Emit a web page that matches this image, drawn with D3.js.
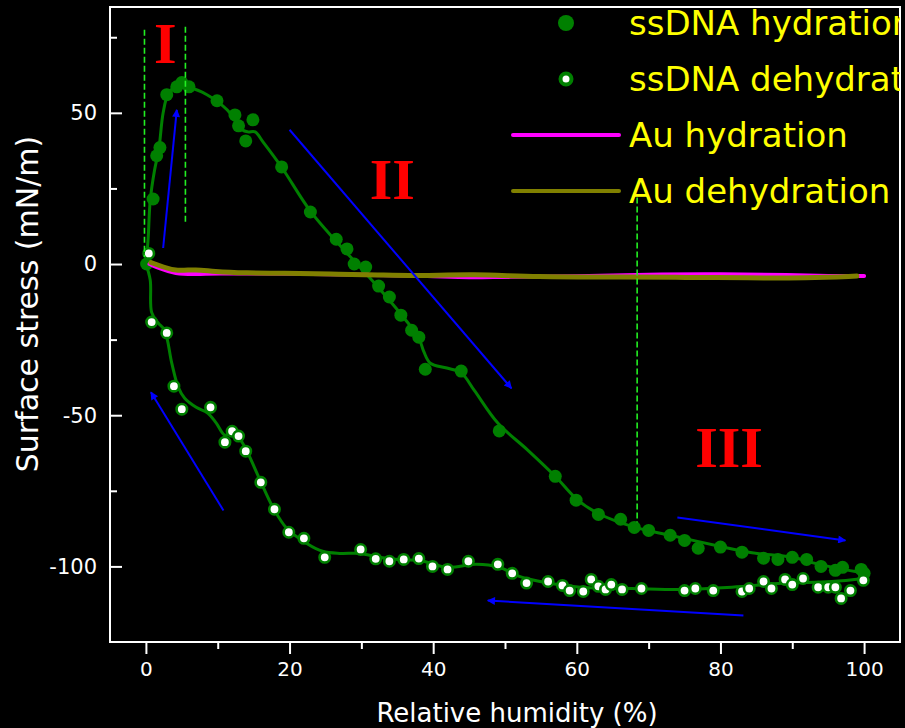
<!DOCTYPE html>
<html>
<head>
<meta charset="utf-8">
<script src="https://cdn.jsdelivr.net/npm/d3@7"></script>
<style>
  html, body { margin: 0; padding: 0; background: #000; }
  svg { display: block; }
  text { font-family: "Comic Sans MS", "DejaVu Sans", sans-serif; }
</style>
</head>
<body>
<svg id="chart" width="905" height="728"></svg>
<script>
// ssDNA hydration, measured points: [relative humidity %, surface stress mN/m]
const hydrationPoints = [
  [0.1,0],[1.0,21.5],[1.5,35.8],[1.95,38.5],[2.9,56],[4.3,58.6],[5.0,60],[6.0,58.6],
  [9.9,54],[12.4,49.3],[12.9,45.7],[14.9,47.7],[13.9,40.7],[18.9,32.1],[22.9,17.2],
  [26.5,8.2],[28,5],[29,0],[30.6,-1],[32.4,-7.3],[33.9,-10.9],[35.5,-16.9],[37,-21.9],
  [38,-24.2],[38.9,-34.8],[43.9,-35.4],[49.2,-55.2],[57,-70.2],[59.9,-78.1],[63,-82.8],
  [66.1,-84.4],[68,-87.1],[70,-88.1],[73,-89.7],[75,-91.4],[76.9,-94],[80,-93.6],
  [83,-95.3],[86,-97.3],[88,-97.7],[90,-97],[92,-97.7],[94,-100],[96,-101.3],
  [97,-100.3],[99.6,-101],[100,-102.3]
];

// ssDNA dehydration, measured points
const dehydrationPoints = [
  [0.4,3.5],[0.8,-19.2],[2.9,-22.8],[3.9,-40.4],[5.0,-48],[9.0,-47.4],[11.0,-58.9],
  [12.0,-55.3],[12.9,-56.9],[13.9,-61.9],[16.0,-72.2],[17.9,-81.1],[19.9,-88.7],
  [22.0,-90.7],[24.9,-97],[29.9,-94.4],[32.0,-97.5],[33.9,-98.3],[35.9,-97.7],
  [38.0,-97.4],[39.9,-100],[42.0,-101],[44.9,-98.3],[49.0,-99.3],[51.0,-102.3],
  [53.0,-105.5],[56.0,-105],[58.0,-106.3],[59.0,-108],[60.9,-108.3],[62.0,-104.3],
  [63.0,-106.6],[64.0,-107.6],[64.8,-106],[66.3,-107.6],[69.0,-107.3],[75.0,-108],
  [76.5,-107.3],[79.0,-108],[83.0,-108.3],[84.0,-107.3],[86.0,-105],[87.1,-107.3],
  [89.0,-104.3],[90.0,-106],[91.5,-104],[93.6,-106.9],[95.0,-106.9],[96.0,-106.9],
  [96.8,-110.6],[98.1,-108],[99.9,-104.6]
];

// Smoothed trend through the hydration points
const hydrationFit = [
  [0,0],[0.3,8],[0.6,21],[1.2,31],[1.8,38],[2.4,50],[3.1,56.3],[4.0,58.3],[6.1,58.3],
  [8.5,56],[11.3,51],[13.4,44.4],[14.2,43.7],[15.2,43.7],[16.3,40.4],[18.9,32],
  [22.9,17.5],[26.5,7.5],[30,-1.5],[33,-9.5],[36,-18],[38,-24.5],[38.7,-29],
  [39.6,-32.8],[41.9,-34.4],[43.9,-36],[45.7,-41.7],[49,-52.6],[53.2,-61.6],[57,-70.2],
  [60,-77.8],[63,-82.5],[68,-87],[73,-89.7],[80,-93.4],[84.4,-95.5],[90,-97],
  [94,-99.5],[100,-102.2]
];

// Smoothed trend through the dehydration points
const dehydrationFit = [
  [0,0],[0.6,-5.3],[0.8,-16],[1.7,-19.5],[2.6,-21.9],[3.6,-32.8],[4.5,-40.7],[5.4,-44.4],
  [7,-47.4],[8.6,-49.3],[9.8,-52.6],[11,-56.6],[12,-56],[12.9,-57.3],[14,-61.6],
  [15.9,-71.5],[17.7,-80.5],[19.6,-87.4],[22.4,-92.4],[24.6,-95],[27,-95.7],[29.8,-95.7],
  [32.5,-97],[35.5,-97.8],[38,-98],[42,-100.3],[46,-99.3],[49.2,-100.3],[52,-103.3],
  [56.2,-105.6],[60.8,-107],[67.7,-107.3],[74.7,-107.6],[81.6,-106.9],[88.6,-105.6],
  [95.5,-105],[100,-104]
];

// Bare gold reference traces
const auHydration = [
  [0.5,0],[2,-1.5],[4,-3.2],[7,-3.4],[10,-3],[15,-3.2],[20,-3.2],[30,-3.5],[40,-4],
  [45,-4.5],[50,-4.2],[60,-4.2],[70,-3.4],[80,-3.3],[90,-3.6],[95,-4],[100,-4]
];
const auDehydration = [
  [0.7,0.5],[2.4,-1],[4.3,-2.4],[7,-1.7],[9.3,-2.5],[14,-3],[19,-3],[25.6,-3.3],
  [32.5,-3.6],[38,-4],[45.5,-3.3],[54,-4.3],[67,-4.3],[75,-4.4],[84,-4.6],[92,-4.6],[99,-4]
];

// Axis ticks
const xMajorTicks = [0, 20, 40, 60, 80, 100];
const xMinorTicks = [10, 30, 50, 70, 90];
const yMajorTicks = [-100, -50, 0, 50];
const yMinorTicks = [-75, -25, 25, 75];

// Region boundaries (dashed) : [x, yTop, yBottom]
const regionBounds = [[-0.2, 77.5, 2.3], [5.5, 78.5, 13.9], [68.4, 22, -85.4]];
// Region labels : [text, x, y baseline]
const regionLabels = [["I", 2.7, 66.5], ["II", 34.3, 21.5], ["III", 81.2, -67]];
// Direction arrows : [x0, y0, x1, y1] (head at x1,y1)
const arrows = [
  [2.4, 5.3, 4.3, 51],
  [20.0, 44.4, 50.9, -41.1],
  [10.8, -81.5, 0.7, -42.4],
  [74.0, -83.8, 97.4, -91.4],
  [83.2, -116.2, 47.6, -111.3]
];

const legendNames = ["ssDNA hydration", "ssDNA dehydration", "Au hydration", "Au dehydration"];

const green = "#008000";
const svg = d3.select("#chart");
const W = 905, H = 728;
const plot = { left: 110, right: 900, top: 7, bottom: 642 };

const x = d3.scaleLinear().domain([-5, 105]).range([plot.left, plot.right]);
const y = d3.scaleLinear().domain([-125, 85]).range([plot.bottom, plot.top]);

svg.append("rect").attr("width", W).attr("height", H).attr("fill", "#000");

const defs = svg.append("defs");
defs.append("clipPath").attr("id", "plotClip")
  .append("rect")
  .attr("x", plot.left).attr("y", plot.top)
  .attr("width", plot.right - plot.left).attr("height", plot.bottom - plot.top);
defs.append("marker")
  .attr("id", "arrowHead")
  .attr("viewBox", "0 0 10 10")
  .attr("refX", 9).attr("refY", 5)
  .attr("markerWidth", 11).attr("markerHeight", 8)
  .attr("markerUnits", "userSpaceOnUse")
  .attr("orient", "auto")
  .append("path").attr("d", "M0,0 L10,5 L0,10 Z").attr("fill", "#0000ff");

// Axes
const xAxisMajor = d3.axisBottom(x).tickValues(xMajorTicks).tickSize(12).tickPadding(8).tickSizeOuter(0);
const xAxisMinor = d3.axisBottom(x).tickValues(xMinorTicks).tickSize(7).tickFormat("").tickSizeOuter(0);
const yAxisMajor = d3.axisRight(y).tickValues(yMajorTicks).tickSize(12).tickFormat("").tickSizeOuter(0);
const yAxisMinor = d3.axisRight(y).tickValues(yMinorTicks).tickSize(7).tickFormat("").tickSizeOuter(0);

function styleAxis(g) {
  g.select(".domain").remove();
  g.selectAll(".tick line").attr("stroke", "#fff").attr("stroke-width", 2);
  g.selectAll(".tick text").attr("fill", "#fff")
    .style("font-family", '"Comic Sans MS", "DejaVu Sans", sans-serif')
    .style("font-size", "20px");
}

svg.append("g").attr("transform", `translate(0,${plot.bottom})`).call(xAxisMajor).call(styleAxis);
svg.append("g").attr("transform", `translate(0,${plot.bottom})`).call(xAxisMinor).call(styleAxis);
svg.append("g").attr("transform", `translate(${plot.left},0)`).call(yAxisMajor).call(styleAxis);
svg.append("g").attr("transform", `translate(${plot.left},0)`).call(yAxisMinor).call(styleAxis);

// y tick labels sit outside the frame while the ticks point inward
svg.append("g").selectAll("text").data(yMajorTicks).join("text")
  .attr("x", 97).attr("y", d => y(d)).attr("dy", "0.35em")
  .attr("text-anchor", "end").attr("fill", "#fff")
  .style("font-size", "21px")
  .text(d => d);

// Frame
svg.append("rect")
  .attr("x", plot.left).attr("y", plot.top)
  .attr("width", plot.right - plot.left).attr("height", plot.bottom - plot.top)
  .attr("fill", "none").attr("stroke", "#fff").attr("stroke-width", 2);

// Axis titles
svg.append("text")
  .attr("x", 517).attr("y", 722)
  .attr("text-anchor", "middle").attr("fill", "#fff")
  .style("font-size", "26px")
  .text("Relative humidity (%)");
svg.append("text")
  .attr("transform", "translate(38,304) rotate(-90)")
  .attr("text-anchor", "middle").attr("fill", "#fff")
  .style("font-size", "30px")
  .text("Surface stress (mN/m)");

const plotG = svg.append("g").attr("clip-path", "url(#plotClip)");

const line = d3.line().x(d => x(d[0])).y(d => y(d[1])).curve(d3.curveCatmullRom.alpha(0.5));

// Fitted ssDNA curves
plotG.append("path").datum(dehydrationFit).attr("d", line)
  .attr("fill", "none").attr("stroke", green).attr("stroke-width", 3);
plotG.append("path").datum(hydrationFit).attr("d", line)
  .attr("fill", "none").attr("stroke", green).attr("stroke-width", 3);

// ssDNA markers
plotG.append("g").selectAll("circle").data(hydrationPoints).join("circle")
  .attr("cx", d => x(d[0])).attr("cy", d => y(d[1])).attr("r", 6.5)
  .attr("fill", green);
plotG.append("g").selectAll("circle").data(dehydrationPoints).join("circle")
  .attr("cx", d => x(d[0])).attr("cy", d => y(d[1])).attr("r", 5.2)
  .attr("fill", "#fff").attr("stroke", green).attr("stroke-width", 2.6);

// Au traces
const auLine = d3.line().x(d => x(d[0])).y(d => y(d[1])).curve(d3.curveBasis);
plotG.append("path").datum(auHydration).attr("d", auLine)
  .attr("fill", "none").attr("stroke", "#ff00ff").attr("stroke-width", 4).attr("stroke-linecap", "round");
plotG.append("path").datum(auDehydration).attr("d", auLine)
  .attr("fill", "none").attr("stroke", "#808000").attr("stroke-width", 5).attr("stroke-linecap", "round");

// Region boundaries
plotG.append("g").selectAll("line").data(regionBounds).join("line")
  .attr("x1", d => x(d[0])).attr("x2", d => x(d[0]))
  .attr("y1", d => y(d[1])).attr("y2", d => y(d[2]))
  .attr("stroke", "#22ee22").attr("stroke-width", 1.6).attr("stroke-dasharray", "6,3");

// Region labels
plotG.append("g").selectAll("text").data(regionLabels).join("text")
  .attr("x", d => x(d[1])).attr("y", d => y(d[2]))
  .attr("text-anchor", "middle").attr("fill", "#ff0000")
  .style("font-family", '"Liberation Serif", "Times New Roman", serif')
  .style("font-weight", "bold").style("font-size", "58px")
  .text(d => d[0]);

// Direction arrows
plotG.append("g").selectAll("line").data(arrows).join("line")
  .attr("x1", d => x(d[0])).attr("y1", d => y(d[1]))
  .attr("x2", d => x(d[2])).attr("y2", d => y(d[3]))
  .attr("stroke", "#0000ff").attr("stroke-width", 2)
  .attr("marker-end", "url(#arrowHead)");

// Legend (its text runs past the frame edge and is clipped there)
const legend = plotG.append("g");
const legendRowY = [23, 79, 135, 191];
const symbolX = 566, lineX0 = 513, lineX1 = 619, textX = 629;

legend.append("circle").attr("cx", symbolX).attr("cy", legendRowY[0]).attr("r", 8).attr("fill", green);
legend.append("circle").attr("cx", symbolX).attr("cy", legendRowY[1]).attr("r", 5.5)
  .attr("fill", "#fff").attr("stroke", green).attr("stroke-width", 4);
legend.append("line").attr("x1", lineX0).attr("x2", lineX1)
  .attr("y1", legendRowY[2]).attr("y2", legendRowY[2])
  .attr("stroke", "#ff00ff").attr("stroke-width", 4).attr("stroke-linecap", "round");
legend.append("line").attr("x1", lineX0).attr("x2", lineX1)
  .attr("y1", legendRowY[3]).attr("y2", legendRowY[3])
  .attr("stroke", "#808000").attr("stroke-width", 4).attr("stroke-linecap", "round");

legend.selectAll("text").data(legendNames).join("text")
  .attr("x", textX).attr("y", (d, i) => legendRowY[i]).attr("dy", "0.36em")
  .attr("fill", "#ffff00")
  .style("font-size", "34px")
  .text(d => d);
</script>
</body>
</html>
